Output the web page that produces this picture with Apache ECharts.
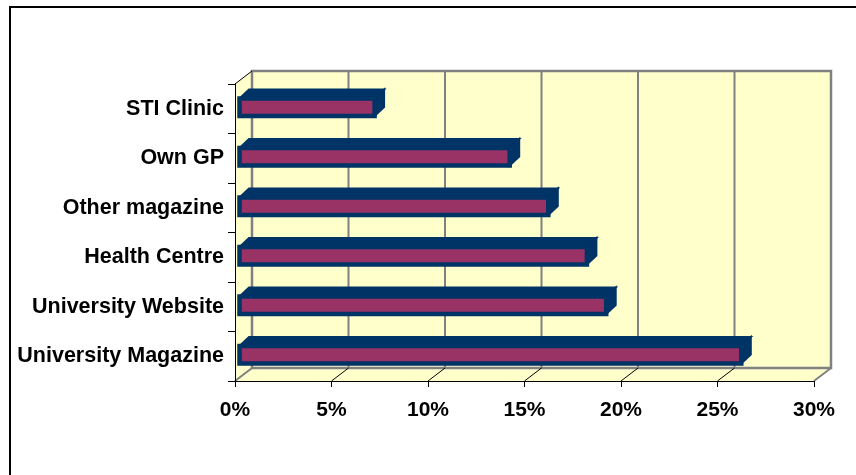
<!DOCTYPE html>
<html>
<head>
<meta charset="utf-8">
<script src="https://cdn.jsdelivr.net/npm/echarts@6/dist/echarts.min.js"></script>
<style>
  html, body { margin: 0; padding: 0; background: #ffffff; }
  #chart { width: 856px; height: 475px; }
</style>
</head>
<body>
<div id="chart"></div>
<script>
// Where students heard about the service (share of responses, %)
const categories = ['University Magazine', 'University Website', 'Health Centre', 'Other magazine', 'Own GP', 'STI Clinic'];
const shares = [26, 19, 18, 16, 14, 7];
const xTicks = [0, 5, 10, 15, 20, 25, 30];

// 3D look: depth of the box and placement of the bars inside it (pixels)
const DEPTH_X = 17, DEPTH_Y = -13;
const BAR_SHIFT_X = 4.5, BAR_SHIFT_Y = -1.5;
const BAR_DEPTH_X = 9.5, BAR_DEPTH_Y = -9;
const BAR_HEIGHT = 17.5;

const WALL = '#FFFFCC';
const WALL_LINE = '#808080';
const NAVY = '#003366';
const PLUM = '#993366';

const chart = echarts.init(document.getElementById('chart'), null, { renderer: 'canvas' });

function renderBox(params, api) {
  const cs = params.coordSys;
  const gx = cs.x, gy = cs.y, gw = cs.width, gh = cs.height;
  const bottom = gy + gh;
  const children = [];
  // side wall
  children.push({ type: 'polygon', shape: { points: [[gx, gy], [gx + DEPTH_X, gy + DEPTH_Y], [gx + DEPTH_X, bottom + DEPTH_Y], [gx, bottom]] }, style: { fill: WALL } });
  // floor
  children.push({ type: 'polygon', shape: { points: [[gx, bottom], [gx + DEPTH_X, bottom + DEPTH_Y], [gx + gw + DEPTH_X, bottom + DEPTH_Y], [gx + gw, bottom]] }, style: { fill: WALL } });
  // back wall
  children.push({ type: 'rect', shape: { x: gx + DEPTH_X, y: gy + DEPTH_Y, width: gw, height: gh }, style: { fill: WALL, stroke: WALL_LINE, lineWidth: 2.5 } });
  // grid lines on back wall + depth lines on the floor
  xTicks.forEach((t, k) => {
    const x = api.coord([t, 0])[0];
    if (k > 0 && k < xTicks.length - 1) {
      children.push({ type: 'line', shape: { x1: x + DEPTH_X, y1: gy + DEPTH_Y, x2: x + DEPTH_X, y2: bottom + DEPTH_Y }, style: { stroke: WALL_LINE, lineWidth: 2 } });
      children.push({ type: 'line', shape: { x1: x, y1: bottom, x2: x + DEPTH_X, y2: bottom + DEPTH_Y }, style: { stroke: '#000000', lineWidth: 1 } });
    } else {
      children.push({ type: 'line', shape: { x1: x, y1: bottom, x2: x + DEPTH_X, y2: bottom + DEPTH_Y }, style: { stroke: WALL_LINE, lineWidth: 2 } });
    }
  });
  // top edge of the side wall
  children.push({ type: 'line', shape: { x1: gx, y1: gy, x2: gx + DEPTH_X, y2: gy + DEPTH_Y }, style: { stroke: '#000000', lineWidth: 1 } });
  return { type: 'group', children: children };
}

function renderBar(params, api) {
  const v = api.value(0);
  const idx = api.value(1);
  const p0 = api.coord([0, idx]);
  const p1 = api.coord([v, idx]);
  const x0 = p0[0] + BAR_SHIFT_X;
  const x1 = p1[0] + BAR_SHIFT_X;
  const yT = p0[1] - BAR_HEIGHT / 2 + BAR_SHIFT_Y;
  const yB = yT + BAR_HEIGHT;
  const dx = BAR_DEPTH_X, dy = BAR_DEPTH_Y;
  return {
    type: 'group',
    children: [
      { type: 'polygon', shape: { points: [[x0, yT], [x1, yT], [x1 + dx, yT + dy], [x0 + dx, yT + dy]] }, style: { fill: NAVY, stroke: NAVY, lineWidth: 2 } },
      { type: 'polygon', shape: { points: [[x1, yT], [x1 + dx, yT + dy], [x1 + dx, yB + dy], [x1, yB]] }, style: { fill: NAVY, stroke: NAVY, lineWidth: 2 } },
      { type: 'rect', shape: { x: x0, y: yT, width: x1 - x0, height: BAR_HEIGHT }, style: { fill: PLUM, stroke: NAVY, lineWidth: 4.5 } }
    ]
  };
}

const option = {
  animation: false,
  backgroundColor: '#ffffff',
  graphic: [
    { type: 'rect', silent: true, z: -10, shape: { x: 10, y: 7, width: 900, height: 520 }, style: { fill: 'none', stroke: '#000000', lineWidth: 2 } }
  ],
  grid: { left: 235, top: 84, right: 42, bottom: 94, containLabel: false },
  xAxis: {
    type: 'value',
    min: xTicks[0],
    max: xTicks[xTicks.length - 1],
    interval: xTicks[1] - xTicks[0],
    z: 5,
    axisLine: { show: true, lineStyle: { color: '#000000', width: 1 } },
    axisTick: { show: true, length: 6, lineStyle: { color: '#000000' } },
    splitLine: { show: false },
    axisLabel: {
      formatter: '{value}%',
      margin: 19,
      color: '#000000',
      fontFamily: 'Liberation Sans, Arial, sans-serif',
      fontWeight: 'bold',
      fontSize: 21
    }
  },
  yAxis: {
    type: 'category',
    data: categories,
    z: 5,
    axisLine: { show: true, lineStyle: { color: '#000000', width: 1 } },
    axisTick: { show: true, length: 7, lineStyle: { color: '#000000' } },
    splitLine: { show: false },
    axisLabel: {
      margin: 11,
      color: '#000000',
      fontFamily: 'Liberation Sans, Arial, sans-serif',
      fontWeight: 'bold',
      fontSize: 21.5
    }
  },
  series: [
    {
      type: 'custom',
      z: 1,
      silent: true,
      clip: false,
      renderItem: renderBox,
      data: [[0, 0]],
      encode: { x: 0, y: 1 }
    },
    {
      type: 'custom',
      z: 10,
      clip: false,
      renderItem: renderBar,
      data: shares.map((v, i) => [v, i]),
      encode: { x: 0, y: 1 }
    }
  ]
};

chart.setOption(option);
</script>
</body>
</html>
